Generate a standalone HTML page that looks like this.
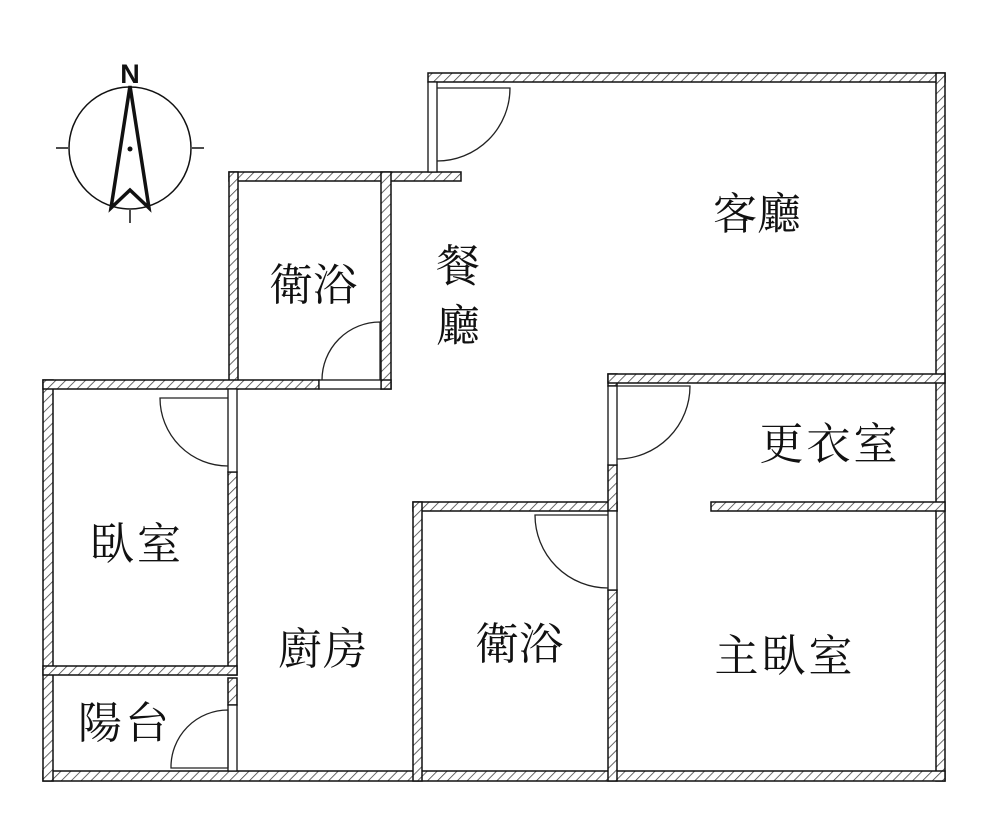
<!DOCTYPE html>
<html><head><meta charset="utf-8"><style>
html,body{margin:0;padding:0;background:#fff;}
svg{display:block;}
text{font-family:"Liberation Serif","Noto Serif CJK SC",serif;font-size:44px;fill:#111;}
</style></head><body>
<svg width="1000" height="832" viewBox="0 0 1000 832" xmlns="http://www.w3.org/2000/svg">
<defs>
<pattern id="h" width="7" height="7" patternUnits="userSpaceOnUse" patternTransform="rotate(45)">
<rect width="7" height="7" fill="#fff"/>
<line x1="0" y1="0" x2="0" y2="7" stroke="#444" stroke-width="1.6"/>
</pattern>
</defs>
<g fill="url(#h)" stroke="#111" stroke-width="1.5">
<rect x="428" y="73" width="517" height="9"/>
<rect x="936" y="73" width="9" height="708"/>
<rect x="43" y="771" width="902" height="10"/>
<rect x="43" y="380" width="10" height="401"/>
<rect x="229" y="172" width="232" height="9"/>
<rect x="229" y="172" width="9" height="217"/>
<rect x="381" y="172" width="10" height="217"/>
<rect x="43" y="380" width="276" height="9"/>
<rect x="381" y="380" width="10" height="9"/>
<rect x="228" y="472" width="9" height="203"/>
<rect x="43" y="666" width="194" height="9"/>
<rect x="228" y="678" width="9" height="27"/>
<rect x="413" y="502" width="204" height="9"/>
<rect x="413" y="502" width="9" height="279"/>
<rect x="608" y="374" width="9" height="12"/>
<rect x="608" y="465" width="9" height="46"/>
<rect x="608" y="590" width="9" height="191"/>
<rect x="608" y="374" width="337" height="9"/>
<rect x="711" y="502" width="234" height="9"/>
</g>
<g fill="#fff" stroke="#111" stroke-width="1.3">
<rect x="428" y="82" width="9" height="90"/>
<rect x="319" y="380" width="62" height="9"/>
<rect x="228" y="389" width="9" height="83"/>
<rect x="228" y="705" width="9" height="66"/>
<rect x="608" y="386" width="9" height="79"/>
<rect x="608" y="511" width="9" height="79"/>
</g>
<g fill="none" stroke="#222" stroke-width="1.3">
<path d="M437 88 L510 88 A73 73 0 0 1 437 161"/>
<path d="M380 380 L380 322 A58 58 0 0 0 322 380"/>
<path d="M228 398 L160 398 A68 68 0 0 0 228 466"/>
<path d="M228 768 L228 710 A57 57 0 0 0 171 768 L228 768"/>
<path d="M608 515 L535 515 A73 73 0 0 0 608 588"/>
<path d="M617 386 L690 386 A73 73 0 0 1 617 459"/>
</g>
<g stroke="#111" fill="none">
<circle cx="130" cy="148" r="61" stroke-width="1.5"/>
<line x1="56" y1="148" x2="68" y2="148" stroke-width="1.5"/>
<line x1="192" y1="148" x2="204" y2="148" stroke-width="1.5"/>
<line x1="130" y1="210" x2="130" y2="223" stroke-width="1.5"/>
<path d="M130 86 L111 208 L130 190 L149 208 Z" stroke-width="3.5" stroke-linejoin="miter"/>
</g>
<circle cx="130" cy="149" r="2.5" fill="#111"/>
<text x="130" y="83" text-anchor="middle" style="font-family:'Liberation Sans',sans-serif;font-weight:bold;font-size:27px">N</text>
<text x="757" y="229" text-anchor="middle">客廳</text>
<text x="313" y="300" text-anchor="middle">衛浴</text>
<text x="458" y="281" text-anchor="middle">餐</text>
<text x="458" y="341" text-anchor="middle">廳</text>
<text x="830" y="459" text-anchor="middle" letter-spacing="3">更衣室</text>
<text x="137" y="559" text-anchor="middle" letter-spacing="3">臥室</text>
<text x="323" y="664" text-anchor="middle" letter-spacing="1">廚房</text>
<text x="519" y="659" text-anchor="middle">衛浴</text>
<text x="785" y="671" text-anchor="middle" letter-spacing="3">主臥室</text>
<text x="125" y="738" text-anchor="middle" letter-spacing="3">陽台</text>
</svg>
</body></html>
